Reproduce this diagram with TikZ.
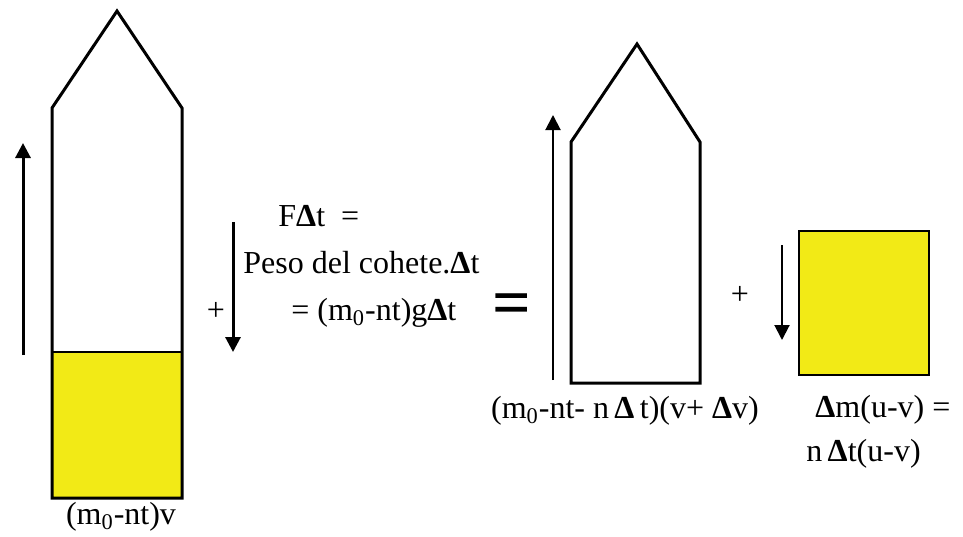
\documentclass[tikz,border=0pt]{standalone}
\usepackage{fontspec}
\setmainfont{Liberation Serif}
\usepackage{tikz}
\usetikzlibrary{arrows.meta,positioning}
\definecolor{fuelyellow}{RGB}{242,234,22}
\newcommand{\dl}{\textbf{Δ}}
\newcommand{\mz}{m\textsubscript{0}}

\begin{document}
\begin{tikzpicture}[x=0.5pt, y=-0.5pt,
    hull/.style={line width=1.5pt, black, line join=miter},
    fuel/.style={fill=fuelyellow, draw=black, line width=0.8pt},
    lbl/.style={font=\fontsize{16}{19}\selectfont, inner sep=0pt},
    vel/.style={-{Triangle[length=7.5pt, width=7.5pt]}, line width=1.5pt},
    velthin/.style={-{Triangle[length=7.5pt, width=7.5pt]}, line width=1pt}
]
    \useasboundingbox (0,0) rectangle (963,536);

    % rocket before
    \draw[fuel] (52,352) rectangle (182,498);
    \draw[hull] (52,498) -- (52,108) -- (117,11) -- (182,108) -- (182,498) -- cycle;
    \coordinate (upA0) at (23,355);
    \coordinate (upA1) at (23,143);
    \draw[vel] (upA0) -- (upA1);
    \node[lbl] (pbefore) at (121,517) {(\mz-nt)v};

    % weight impulse
    \coordinate (dnW0) at (233,222);
    \coordinate (dnW1) at (233,352);
    \draw[vel] (dnW0) -- (dnW1);
    \node[lbl] (plusW) at (216,311) {+};
    \node[lbl, anchor=west] (imp1) at (278,216) {F\dl t\ \ =};
    \node[lbl, anchor=west] (imp2) at (243,263) {Peso del cohete.\dl t};
    \node[lbl, anchor=west] (imp3) at (291,313) {= (\mz-nt)g\dl t};

    \node[font=\fontsize{34}{34}\selectfont\bfseries, inner sep=0pt] (eq) at (512,310) {=};

    % rocket after
    \draw[hull] (571,383) -- (571,142) -- (637,44) -- (700,142) -- (700,383) -- cycle;
    \coordinate (upB0) at (553,380);
    \coordinate (upB1) at (553,115);
    \draw[velthin] (upB0) -- (upB1);
    \node[lbl] (pafter) at (625,411) {(\mz-nt- n\,\dl\,t)(v+ \dl v)};

    % ejected gas
    \node[lbl] (plusG) at (740,295) {+};
    \draw[fill=fuelyellow, line width=0.6pt] (799,231) rectangle (929,375);
    \coordinate (dnG0) at (782,245);
    \coordinate (dnG1) at (782,340);
    \draw[velthin] (dnG0) -- (dnG1);
    \node[lbl, anchor=west] (gas1) at (815,410) {\dl m(u-v) =};
    \node[lbl, anchor=west] (gas2) at (806,454) {n\,\dl t(u-v)};
\end{tikzpicture}
\end{document}
